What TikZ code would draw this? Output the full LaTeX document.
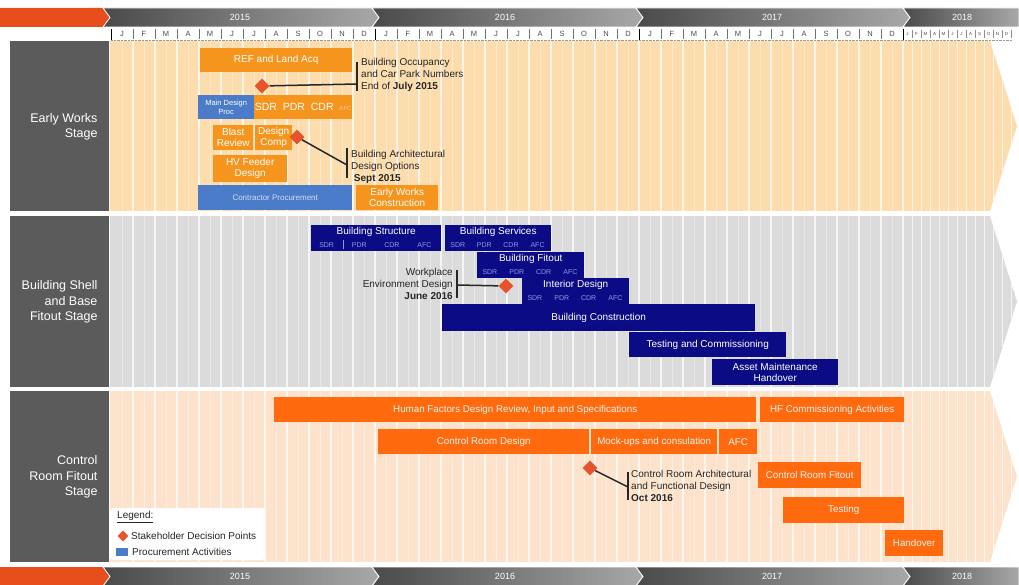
\documentclass[tikz,border=0pt]{standalone}
\usepackage{fontspec}
\setmainfont{Liberation Sans}
\usetikzlibrary{shapes.geometric,calc}

\definecolor{chevor}{HTML}{E84E1B}
\definecolor{ydark}{HTML}{4A4A4A}
\definecolor{ylight}{HTML}{A8A8A8}
\definecolor{panel}{HTML}{5B5B5B}
\definecolor{ewbg}{HTML}{FDDCAE}
\definecolor{shbg}{HTML}{DBDBDB}
\definecolor{crbg}{HTML}{FDE3CB}
\definecolor{ewor}{HTML}{F5951E}
\definecolor{cror}{HTML}{FF6A0E}
\definecolor{navy}{HTML}{0B0B85}
\definecolor{procblue}{HTML}{4A7CC9}
\definecolor{dpoint}{HTML}{E8532B}
\definecolor{subblue}{HTML}{8C9AE0}

\begin{document}
\begin{tikzpicture}[x=1pt, y=-1pt,
  bar/.style={inner sep=0pt, anchor=north west, text=white, align=center, font=\fontsize{10}{11}\selectfont},
  ewbar/.style={bar, fill=ewor},
  procbar/.style={bar, fill=procblue},
  shbar/.style={bar, fill=navy},
  crbar/.style={bar, fill=cror, text=white!92!cror, font=\fontsize{9.8}{11}\selectfont},
  shtitle/.style={text=white, inner sep=0pt, font=\fontsize{10}{11}\selectfont},
  sub/.style={text=subblue, inner sep=0pt, font=\fontsize{7}{8}\selectfont},
  decision/.style={diamond, fill=dpoint, inner sep=0pt, minimum size=15pt},
  note/.style={inner sep=0pt, text=black!85, font=\fontsize{10}{12.3}\selectfont},
  callout/.style={line width=1.5pt, black!85},
  stage/.style={text=white, anchor=east, align=right, font=\fontsize{12.5}{15.5}\selectfont},
  month/.style={inner sep=0pt, text=black!70, font=\fontsize{7.5}{8}\selectfont},
  yr/.style={inner sep=0pt, text=white, font=\fontsize{9}{10}\selectfont},
]
\useasboundingbox (0,0) rectangle (1019,585);

% Year bands, top and bottom
\foreach \yt in {8,567} {
  \fill[chevor] (0,\yt) -- (103,\yt) -- (110,\yt+9.5) -- (103,\yt+19) -- (0,\yt+19) -- cycle;
  \foreach \a/\b in {103/372, 372/636, 636/903}
    \shade[left color=ydark, right color=ylight, draw=white, line width=0.8pt]
      (\a,\yt) -- (\b,\yt) -- (\b+7,\yt+9.5) -- (\b,\yt+19) -- (\a,\yt+19) -- (\a+7,\yt+9.5) -- cycle;
  \shade[left color=ydark, right color=ylight, draw=white, line width=0.8pt]
    (903,\yt) -- (1019,\yt) -- (1019,\yt+19) -- (903,\yt+19) -- (910,\yt+9.5) -- cycle;
  \foreach \x/\y in {240/2015, 505/2016, 772/2017, 962/2018}
    \node[yr] (y\y-\yt) at (\x,\yt+9.5) {\y};
}

% Months
\foreach \yo in {0,264,528}
  \foreach \m [count=\i from 0] in {J,F,M,A,M,J,J,A,S,O,N,D}
    \node[month] (m\yo-\i) at (122+\yo+22*\i,34) {\m};
\foreach \m [count=\i from 0] in {J,F,M,A,M,J,J,A,S,O,N,D}
  \node[month, font=\fontsize{4.5}{5}\selectfont] (m18-\i) at (907.5+9*\i,34) {\m};
\foreach \i in {0,...,36}
  \draw[black!55, line width=0.5pt] (111+22*\i,29) -- (111+22*\i,39);
\foreach \i in {0,12,24,36}
  \draw[black, line width=1pt] (111+22*\i,29) -- (111+22*\i,40);
\foreach \i in {1,...,12}
  \draw[black!45, line width=0.4pt] (903+9*\i,30) -- (903+9*\i,38);
\draw[black!40, densely dotted] (111,40) -- (1012,40);

% Stage backgrounds and month stripes
\foreach \t/\b/\bg in {41/211/ewbg, 216/387/shbg, 391/562/crbg} {
  \fill[panel] (10,\t) rectangle (109,\b);
  \begin{scope}
    \clip (110,\t) -- (990,\t) -- (1017,{(\t+\b)/2}) -- (990,\b) -- (110,\b) -- cycle;
    \fill[\bg] (110,\t) rectangle (1019,\b);
    \foreach \i in {0,...,35}
      \draw[white, line width=0.6pt, opacity=0.35] (122+22*\i,\t) -- (122+22*\i,\b);
    \foreach \i in {1,...,36}
      \draw[white, line width=1.2pt, opacity=0.75] (111+22*\i,\t) -- (111+22*\i,\b);
    \foreach \i in {1,...,12}
      \draw[white, line width=0.8pt, opacity=0.7] (903+9*\i,\t) -- (903+9*\i,\b);
  \end{scope}
}

% Stage names
\node[stage] (sew) at (101,127) {Early Works\\Stage};
\node[stage] (ssh) at (101,302) {Building Shell\\and Base\\Fitout Stage};
\node[stage] (scr) at (101,477) {Control\\Room Fitout\\Stage};

% Early Works Stage
\node[ewbar, minimum width=152pt, minimum height=24pt] (ref) at (200,48) {REF and Land Acq};
\node[procbar, minimum width=56pt, minimum height=24pt, font=\fontsize{7.5}{8.5}\selectfont] (mdp) at (198,95) {Main Design\\Proc};
\node[ewbar, minimum width=98pt, minimum height=24pt, font=\fontsize{10.5}{11}\selectfont] (sdr) at (254,95) {SDR\ \ PDR\ \ CDR\ \ {\fontsize{6}{7}\selectfont\color{white!55!ewor}AFC}};
\node[ewbar, minimum width=40pt, minimum height=25pt] (blast) at (213,125) {Blast\\Review};
\node[ewbar, minimum width=37pt, minimum height=25pt] (dcomp) at (255,125) {Design\\Comp};
\node[ewbar, minimum width=74pt, minimum height=27pt] (hv) at (213,155) {HV Feeder\\Design};
\node[procbar, minimum width=154pt, minimum height=25pt, font=\fontsize{8}{9}\selectfont, text=white!75!procblue] (cproc) at (198,185) {Contractor Procurement};
\node[ewbar, minimum width=82pt, minimum height=25pt] (ewc) at (356,185) {Early Works\\Construction};

% Building Shell and Base Fitout Stage
\node[shbar, minimum width=130pt, minimum height=26pt] (bstr) at (311,225) {};
\node[shbar, minimum width=106pt, minimum height=26pt] (bsrv) at (445,225) {};
\node[shbar, minimum width=107pt, minimum height=26pt] (bfit) at (477,252) {};
\node[shbar, minimum width=107pt, minimum height=26pt] (intd) at (522,278) {};
\foreach \n/\t in {bstr/Building Structure, bsrv/Building Services, bfit/Building Fitout, intd/Interior Design} {
  \node[shtitle] (\n-t) at ($(\n.north)+(0,7)$) {\t};
  \foreach \s/\f in {SDR/0.12, PDR/0.37, CDR/0.62, AFC/0.87}
    \node[sub] (\n-\s) at ($(\n.south west)!\f!(\n.south east)+(0,-6)$) {\s};
}
\draw[subblue, line width=0.6pt] ($(bstr.south west)!0.25!(bstr.south east)+(0,-2)$) -- ($(bstr.south west)!0.25!(bstr.south east)+(0,-11)$);
\node[shbar, minimum width=313pt, minimum height=27pt] (bcon) at (442,304) {Building Construction};
\node[shbar, minimum width=157pt, minimum height=25pt] (tc) at (629,332) {Testing and Commissioning};
\node[shbar, minimum width=126pt, minimum height=26pt] (amh) at (712,359) {Asset Maintenance\\Handover};

% Control Room Fitout Stage
\node[crbar, minimum width=482pt, minimum height=25pt] (hf) at (274,397) {Human Factors Design Review, Input and Specifications};
\node[crbar, minimum width=144pt, minimum height=25pt] (hfc) at (760,397) {HF Commissioning Activities};
\node[crbar, minimum width=211pt, minimum height=25pt] (crd) at (378,429) {Control Room Design};
\node[crbar, minimum width=126pt, minimum height=25pt] (mock) at (591,429) {Mock-ups and consulation};
\node[crbar, minimum width=38pt, minimum height=25pt] (afc) at (719,429) {AFC};
\node[crbar, minimum width=103pt, minimum height=26pt] (crf) at (758,462) {Control Room Fitout};
\node[crbar, minimum width=121pt, minimum height=26pt] (test) at (783,497) {Testing};
\node[crbar, minimum width=58pt, minimum height=26pt] (hand) at (885,530) {Handover};

% Stakeholder decision points
\node[decision] (d1) at (262,86) {};
\node[decision] (d2) at (297,137) {};
\node[decision] (d3) at (506,286) {};
\node[decision] (d4) at (590,468) {};

\coordinate (c1) at (357,84);
\coordinate (c2) at (347,165);
\coordinate (c3) at (457,285);
\coordinate (c4) at (628,487);
\draw[callout] (d1) -- (c1);
\draw[callout] ($(c1)+(0,-22)$) -- ($(c1)+(0,7)$);
\draw[callout] (d2) -- (c2);
\draw[callout] ($(c2)+(0,-17)$) -- ($(c2)+(0,13)$);
\draw[callout] (d3) -- (c3);
\draw[callout] ($(c3)+(0,-15)$) -- ($(c3)+(0,13)$);
\draw[callout] (d4) -- (c4);
\draw[callout] ($(c4)+(0,-15)$) -- ($(c4)+(0,13)$);

\node[note, anchor=west, align=left] (n1) at ($(c1)+(4,-9)$) {Building Occupancy\\and Car Park Numbers\\End of \textbf{July 2015}};
\node[note, anchor=west, align=left] (n2) at ($(c2)+(4,2)$) {Building Architectural\\Design Options\\\ \textbf{Sept 2015}};
\node[note, anchor=east, align=right] (n3) at ($(c3)+(-4,-1)$) {Workplace\\Environment Design\\\textbf{June 2016}};
\node[note, anchor=west, align=left] (n4) at ($(c4)+(3,-1)$) {Control Room Architectural\\and Functional Design\\\textbf{Oct 2016}};

% Legend
\fill[white, rounded corners=3pt] (110,508) rectangle (265,560);
\node[note, anchor=west] (lg) at (117,517) {\underline{Legend:}};
\node[decision, minimum size=11pt] (lgd) at (123,536) {};
\node[note, anchor=west] (lgdt) at (131,536) {Stakeholder Decision Points};
\node[fill=procblue, minimum width=12pt, minimum height=8pt, inner sep=0pt] (lgp) at (122,552) {};
\node[note, anchor=west] (lgpt) at (132,552) {Procurement Activities};
\end{tikzpicture}
\end{document}
